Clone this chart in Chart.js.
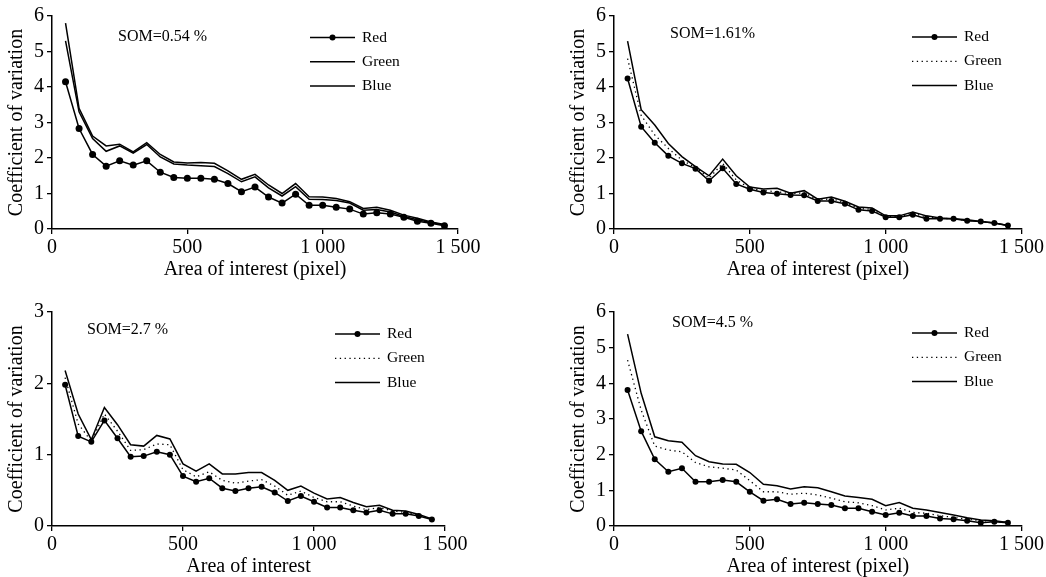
<!DOCTYPE html>
<html>
<head>
<meta charset="utf-8">
<script src="https://cdn.jsdelivr.net/npm/chart.js@4.4.0/dist/chart.umd.min.js"></script>
<style>
html,body{margin:0;padding:0;background:#fff;overflow:hidden;width:1046px;height:577px;}
canvas{position:absolute;}
</style>
</head>
<body>
<canvas id="c1" width="523" height="285" style="left:0;top:0"></canvas>
<canvas id="c2" width="484" height="285" style="left:562px;top:0"></canvas>
<canvas id="c3" width="520" height="285" style="left:0;top:297px"></canvas>
<canvas id="c4" width="484" height="285" style="left:562px;top:297px"></canvas>
<script>
// area of interest (pixel)
const areas = [50,100,150,200,250,300,350,400,450,500,550,600,650,700,750,800,850,900,950,1000,1050,1100,1150,1200,1250,1300,1350,1400,1450];
const xTicks = [0,500,1000,1500];
const xTickLabels = ['0','500','1 000','1 500'];
const seriesNames = ['Red','Green','Blue'];

// SOM=0.54 %
const red1   = [4.15,2.83,2.1,1.77,1.92,1.8,1.92,1.6,1.45,1.43,1.43,1.4,1.28,1.05,1.18,0.9,0.73,0.98,0.67,0.67,0.61,0.56,0.42,0.46,0.42,0.33,0.22,0.16,0.09];
const green1 = [5.3,3.3,2.55,2.19,2.34,2.14,2.38,2.03,1.83,1.8,1.78,1.76,1.56,1.33,1.47,1.16,0.93,1.19,0.84,0.83,0.8,0.73,0.53,0.55,0.48,0.35,0.26,0.18,0.11];
const blue1  = [5.8,3.4,2.62,2.34,2.39,2.17,2.43,2.1,1.89,1.86,1.87,1.85,1.64,1.4,1.54,1.24,1.0,1.28,0.91,0.9,0.86,0.77,0.58,0.61,0.53,0.39,0.3,0.2,0.13];
// SOM=1.61%
const red2   = [4.24,2.88,2.43,2.06,1.85,1.7,1.36,1.71,1.27,1.12,1.03,0.99,0.96,0.95,0.79,0.79,0.71,0.54,0.51,0.33,0.33,0.4,0.29,0.29,0.29,0.23,0.21,0.17,0.1];
const green2 = [4.8,3.2,2.65,2.27,1.94,1.73,1.43,1.85,1.38,1.15,1.08,1.05,0.99,1.02,0.82,0.85,0.75,0.58,0.55,0.35,0.35,0.44,0.34,0.3,0.29,0.24,0.21,0.17,0.1];
const blue2  = [5.29,3.36,2.93,2.41,2.04,1.76,1.5,1.97,1.5,1.18,1.13,1.15,1.01,1.08,0.84,0.9,0.78,0.62,0.59,0.37,0.37,0.48,0.37,0.31,0.29,0.26,0.21,0.17,0.1];
// SOM=2.7 %
const red3   = [1.98,1.26,1.18,1.48,1.23,0.97,0.98,1.04,1.0,0.7,0.62,0.67,0.53,0.49,0.53,0.55,0.47,0.35,0.42,0.34,0.26,0.26,0.22,0.19,0.22,0.17,0.17,0.14,0.09];
const green3 = [2.08,1.43,1.19,1.57,1.33,1.06,1.07,1.15,1.14,0.79,0.69,0.76,0.64,0.6,0.63,0.65,0.56,0.43,0.49,0.4,0.34,0.34,0.28,0.23,0.26,0.21,0.19,0.15,0.1];
const blue3  = [2.18,1.57,1.21,1.66,1.42,1.14,1.12,1.27,1.22,0.87,0.77,0.87,0.73,0.73,0.75,0.75,0.64,0.5,0.56,0.46,0.38,0.4,0.33,0.27,0.29,0.22,0.21,0.16,0.1];
// SOM=4.5 %
const red4   = [3.81,2.66,1.87,1.52,1.62,1.24,1.24,1.29,1.24,0.96,0.71,0.75,0.62,0.65,0.62,0.59,0.5,0.5,0.4,0.31,0.37,0.28,0.28,0.21,0.19,0.15,0.09,0.12,0.09];
const green4 = [4.65,3.25,2.24,2.13,2.08,1.78,1.66,1.62,1.57,1.27,0.96,0.96,0.89,0.92,0.87,0.78,0.68,0.65,0.57,0.45,0.5,0.38,0.36,0.29,0.24,0.19,0.15,0.13,0.1];
const blue4  = [5.38,3.72,2.5,2.39,2.35,1.97,1.8,1.74,1.73,1.5,1.17,1.13,1.04,1.1,1.07,0.96,0.84,0.8,0.75,0.57,0.66,0.5,0.45,0.38,0.31,0.23,0.17,0.15,0.1];

const FONT = '"Liberation Serif", "Times New Roman", serif';

// SOM label + legend drawn inside the plot
const panelText = {
  id: 'panelText',
  afterDraw(chart, args, o) {
    const ctx = chart.ctx;
    ctx.save();
    ctx.fillStyle = '#000';
    ctx.strokeStyle = '#000';
    ctx.textBaseline = 'middle';
    ctx.font = '16px ' + FONT;
    ctx.fillText(o.som, o.somX, o.somY);
    ctx.font = '15.5px ' + FONT;
    chart.data.datasets.forEach((ds, i) => {
      const y = o.legendY + i * 24.3;
      ctx.lineWidth = ds.borderWidth;
      ctx.setLineDash(ds.borderDash || []);
      ctx.beginPath();
      ctx.moveTo(o.legendX, y);
      ctx.lineTo(o.legendX + 45, y);
      ctx.stroke();
      ctx.setLineDash([]);
      if (ds.pointRadius > 0) {
        ctx.beginPath();
        ctx.arc(o.legendX + 22.5, y, 3, 0, Math.PI * 2);
        ctx.fill();
      }
      ctx.fillText(ds.label, o.legendX + 52, y);
    });
    ctx.restore();
  }
};

function toPts(vals) {
  return areas.map((a, i) => ({x: a, y: vals[i]}));
}

function makePanel(id, red, green, blue, o) {
  const dotted = o.greenDash.length > 0;
  const datasets = [
    {label: seriesNames[0], data: toPts(red), borderColor: '#000', borderWidth: 1.5, borderDash: [],
     pointRadius: o.dot, pointBackgroundColor: '#000', pointBorderWidth: 0},
    {label: seriesNames[1], data: toPts(green), borderColor: '#000', borderWidth: dotted ? 1.3 : 1.5,
     borderDash: o.greenDash, pointRadius: 0},
    {label: seriesNames[2], data: toPts(blue), borderColor: '#000', borderWidth: 1.5, borderDash: [], pointRadius: 0}
  ];
  new Chart(document.getElementById(id), {
    type: 'line',
    data: {datasets: datasets},
    plugins: [panelText],
    options: {
      responsive: false,
      animation: false,
      devicePixelRatio: 1,
      layout: {padding: {top: o.top, right: o.right, left: 0, bottom: 0}},
      elements: {line: {tension: 0}},
      plugins: {
        legend: {display: false},
        tooltip: {enabled: false},
        panelText: o.text
      },
      scales: {
        x: {
          type: 'linear', min: 0, max: 1500,
          afterBuildTicks: s => { s.ticks = xTicks.map(v => ({value: v})); },
          afterFit: s => { s.height = 56; },
          ticks: {
            color: '#000', padding: 2, maxRotation: 0,
            font: {family: FONT, size: 20},
            callback: v => xTickLabels[xTicks.indexOf(v)]
          },
          grid: {drawOnChartArea: false, drawTicks: true, tickLength: 5, color: '#000', lineWidth: 1.3},
          border: {display: true, color: '#000', width: 1.5},
          title: {display: true, text: o.xTitle, color: '#000', font: {family: FONT, size: 20}, padding: {top: 0, bottom: 3}}
        },
        y: {
          min: 0, max: o.yMax,
          afterFit: s => { s.width = 52; },
          ticks: {stepSize: 1, color: '#000', padding: 3, font: {family: FONT, size: 20}},
          grid: {drawOnChartArea: false, drawTicks: true, tickLength: 5, color: '#000', lineWidth: 1.3},
          border: {display: true, color: '#000', width: 1.5},
          title: {display: true, text: 'Coefficient of variation', color: '#000', font: {family: FONT, size: 20}, padding: {top: 5, bottom: 0}}
        }
      }
    }
  });
}

makePanel('c1', red1, green1, blue1, {
  yMax: 6, top: 16, right: 65, dot: 3.5, greenDash: [], xTitle: 'Area of interest (pixel)',
  text: {som: 'SOM=0.54 %', somX: 118, somY: 37, legendX: 310, legendY: 37.5}
});
makePanel('c2', red2, green2, blue2, {
  yMax: 6, top: 16, right: 24, dot: 3, greenDash: [1.3, 3.5], xTitle: 'Area of interest (pixel)',
  text: {som: 'SOM=1.61%', somX: 108, somY: 34, legendX: 350, legendY: 37}
});
makePanel('c3', red3, green3, blue3, {
  yMax: 3, top: 15, right: 75, dot: 3, greenDash: [1.3, 3.5], xTitle: 'Area of interest',
  text: {som: 'SOM=2.7 %', somX: 87, somY: 33, legendX: 335, legendY: 37}
});
makePanel('c4', red4, green4, blue4, {
  yMax: 6, top: 15, right: 24, dot: 3, greenDash: [1.3, 3.5], xTitle: 'Area of interest (pixel)',
  text: {som: 'SOM=4.5 %', somX: 110, somY: 26, legendX: 350, legendY: 36}
});
</script>
</body>
</html>
